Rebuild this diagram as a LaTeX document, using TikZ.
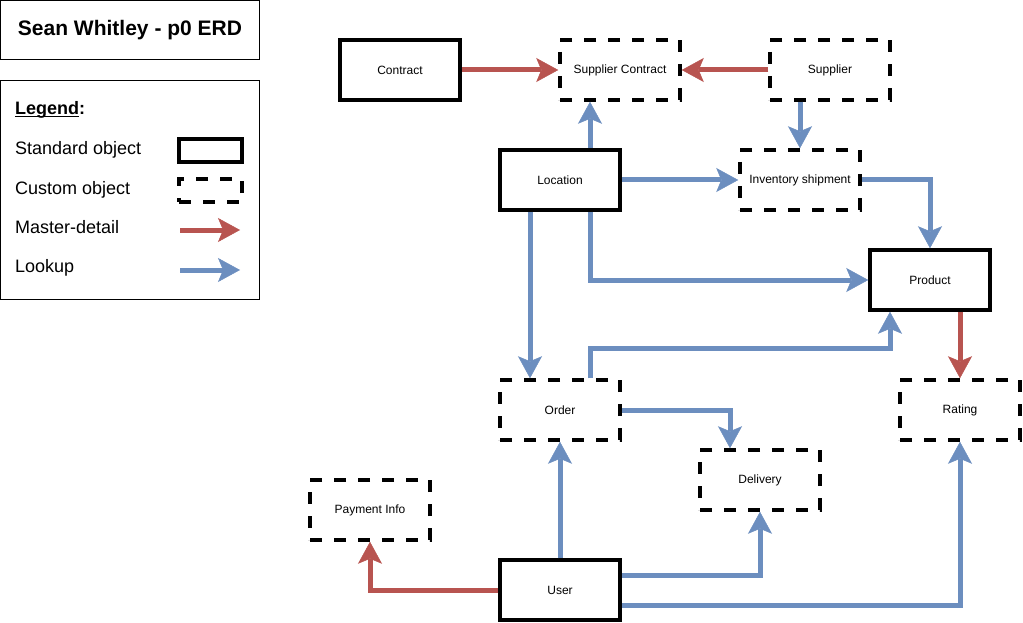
\documentclass[tikz,border=0pt]{standalone}
\usepackage{fontspec}
\setmainfont{Liberation Sans}
\usetikzlibrary{arrows.meta,positioning}
\definecolor{erdBlue}{HTML}{6C8EBF}
\definecolor{erdRed}{HTML}{B85450}
\newcommand\lgunder[1]{\setbox0\hbox{#1}\rlap{\rule[-2.5pt]{\wd0}{1.3pt}}\box0}
\begin{document}
\begin{tikzpicture}[x=1pt,y=-1pt,font=\fontsize{12}{14}\selectfont,
    stdobj/.style={draw,line width=3.5pt,minimum width=120pt,minimum height=60pt,
                   inner sep=0pt,align=center},
    custobj/.style={stdobj,dash pattern=on 12pt off 12pt},
    lgtext/.style={font=\fontsize{18}{22}\selectfont,inner sep=0pt,anchor=base west},
    lookup/.style={draw=erdBlue,line width=5pt,
                   -{Stealth[length=22pt,width=24pt,inset=5pt,line width=0.5pt]}},
    masterdet/.style={lookup,draw=erdRed}]
  \useasboundingbox (0,0) rectangle (1023,623);
  \node[draw,line width=1pt,minimum width=259pt,minimum height=59pt,inner sep=0pt,
        font=\bfseries\fontsize{21}{25}\selectfont] (title) at (130,30.5)
    {Sean Whitley - p0 ERD};
  \node[draw,line width=1pt,minimum width=259pt,minimum height=219pt] (legend) at (130,190) {};
  \node[lgtext] (lgHead) at (15,115) {\textbf{\lgunder{Legend}:}};
  \node[lgtext] (lgStdTxt) at (15,155) {Standard object};
  \node[lgtext] (lgCusTxt) at (15,194) {Custom object};
  \node[lgtext] (lgMdTxt)  at (15,233) {Master-detail};
  \node[lgtext] (lgLkTxt)  at (15,272) {Lookup};
  \node[stdobj,minimum width=63pt,minimum height=23pt]  (lgStd) at (210.5,150.5) {};
  \node[custobj,minimum width=63pt,minimum height=23pt] (lgCus) at (210.5,190.5) {};
  \coordinate (lgMdA) at (180,230);
  \coordinate (lgMdB) at (240,230);
  \coordinate (lgLkA) at (180,270);
  \coordinate (lgLkB) at (240,270);
  \draw[masterdet] (lgMdA) -- (lgMdB);
  \draw[lookup] (lgLkA) -- (lgLkB);

  \node[stdobj]  (con)  at (400,70)  {Contract};
  \node[custobj] (sc)   at (620,70)  {Supplier Contract};
  \node[custobj] (sup)  at (830,70)  {Supplier};
  \node[stdobj]  (loc)  at (560,180) {Location};
  \node[custobj] (inv)  at (800,180) {Inventory shipment};
  \node[stdobj]  (prod) at (930,280) {Product};
  \node[custobj] (ord)  at (560,410) {Order};
  \node[custobj] (rat)  at (960,410) {Rating};
  \node[custobj] (del)  at (760,480) {Delivery};
  \node[custobj] (pay)  at (370,510) {Payment Info};
  \node[stdobj]  (usr)  at (560,590) {User};

  \draw[masterdet] (con) -- (sc);
  \draw[masterdet] (sup) -- (sc);
  \draw[lookup] ([xshift=30pt]loc.north) -- ([xshift=-30pt]sc.south);
  \draw[lookup] ([xshift=-30pt]sup.south) -- (inv.north);
  \draw[lookup] (loc) -- (inv);
  \draw[lookup] (inv.east) -| (prod.north);
  \draw[lookup] ([xshift=30pt]loc.south) |- (prod.west);
  \draw[lookup] ([xshift=-30pt]loc.south) -- ([xshift=-30pt]ord.north);
  \draw[lookup] ([xshift=30pt]ord.north) -- ++(0,-30) -| ([xshift=-40pt]prod.south);
  \draw[masterdet] ([xshift=30pt]prod.south) -- (rat.north);
  \draw[lookup] (ord.east) -| ([xshift=-30pt]del.north);
  \draw[lookup] (usr) -- (ord);
  \draw[masterdet] (usr.west) -| (pay.south);
  \draw[lookup] ([yshift=15pt]usr.east) -| (del.south);
  \draw[lookup] ([yshift=-15pt]usr.east) -| (rat.south);
\end{tikzpicture}
\end{document}
